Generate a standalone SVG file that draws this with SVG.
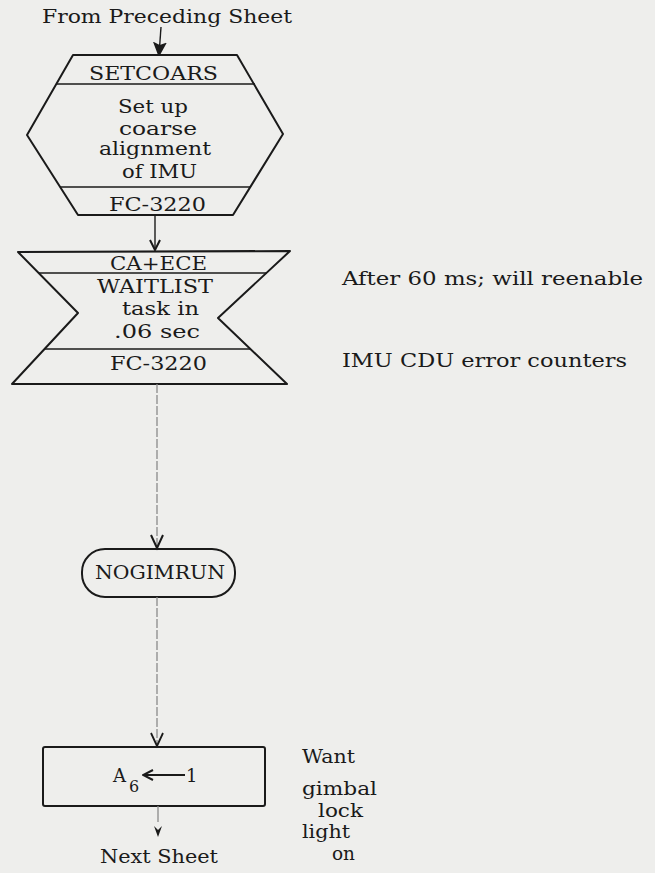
<svg xmlns="http://www.w3.org/2000/svg" width="655" height="873" viewBox="0 0 655 873">
  <defs>
    <style>
      .bg { fill: #eeeeec; }
      .shape { fill: none; stroke: #1a1a1a; stroke-width: 2; stroke-linejoin: round; }
      .div { stroke: #1a1a1a; stroke-width: 1.6; }
      .txt { font-family: "DejaVu Serif", "Liberation Serif", serif; font-size: 18px; fill: #1a1a1a; }
      .sub { font-family: "DejaVu Serif", "Liberation Serif", serif; font-size: 16px; fill: #1a1a1a; }
      .flow { stroke: #1a1a1a; stroke-width: 1.4; fill: none; }
      .faint { stroke: #8a8a8a; stroke-width: 1.3; stroke-dasharray: 9 2; fill: none; }
    </style>
    <marker id="vhead" viewBox="0 0 12 12" refX="11" refY="6" markerWidth="12" markerHeight="12" markerUnits="userSpaceOnUse" orient="auto">
      <path d="M1,1 L11,6 L1,11" fill="none" stroke="#1a1a1a" stroke-width="2"/>
    </marker>
    <marker id="solidhead" viewBox="0 0 14 14" refX="13" refY="7" markerWidth="14" markerHeight="14" markerUnits="userSpaceOnUse" orient="auto">
      <path d="M0,0 L13,6 L13,8 L0,14 L3,7 Z" fill="#1a1a1a"/>
    </marker>
  </defs>

  <rect class="bg" x="0" y="0" width="655" height="873"/>

  <!-- off-page entry label -->
  <g id="entry">
    <text class="txt" x="42" y="23" textLength="250" lengthAdjust="spacingAndGlyphs">From Preceding Sheet</text>
  </g>

  <!-- SETCOARS hexagon -->
  <g id="setcoars">
    <polygon class="shape" points="73,55 237,55 283,134 233,215 78,215 27,135"/>
    <line class="div" x1="57" y1="84" x2="255" y2="84"/>
    <line class="div" x1="60" y1="187" x2="251" y2="187"/>
    <text class="txt" x="89" y="80" textLength="129" lengthAdjust="spacingAndGlyphs">SETCOARS</text>
    <text class="txt" x="118" y="113" textLength="70" lengthAdjust="spacingAndGlyphs">Set up</text>
    <text class="txt" x="119" y="135" textLength="78" lengthAdjust="spacingAndGlyphs">coarse</text>
    <text class="txt" x="99" y="155" textLength="112" lengthAdjust="spacingAndGlyphs">alignment</text>
    <text class="txt" x="122" y="178" textLength="75" lengthAdjust="spacingAndGlyphs">of IMU</text>
    <text class="txt" x="109" y="211" textLength="97" lengthAdjust="spacingAndGlyphs">FC-3220</text>
  </g>

  <!-- CA+ECE waitlist shape -->
  <g id="caece">
    <polygon class="shape" points="18,252 290,251 218,318 287,384 12,384 78,313"/>
    <line class="div" x1="39" y1="273" x2="267" y2="273"/>
    <line class="div" x1="44" y1="349" x2="250" y2="349"/>
    <text class="txt" x="110" y="270" textLength="97" lengthAdjust="spacingAndGlyphs">CA+ECE</text>
    <text class="txt" x="97" y="293" textLength="116" lengthAdjust="spacingAndGlyphs">WAITLIST</text>
    <text class="txt" x="122" y="315" textLength="77" lengthAdjust="spacingAndGlyphs">task in</text>
    <text class="txt" x="114" y="338" textLength="86" lengthAdjust="spacingAndGlyphs">.06 sec</text>
    <text class="txt" x="110" y="370" textLength="97" lengthAdjust="spacingAndGlyphs">FC-3220</text>
  </g>

  <!-- annotations beside CA+ECE -->
  <g id="note-caece">
    <text class="txt" x="342" y="285" textLength="301" lengthAdjust="spacingAndGlyphs">After 60 ms; will reenable</text>
    <text class="txt" x="342" y="367" textLength="285" lengthAdjust="spacingAndGlyphs">IMU CDU error counters</text>
  </g>

  <!-- NOGIMRUN terminal -->
  <g id="nogimrun">
    <rect class="shape" x="82" y="549" width="153" height="48" rx="23" ry="23"/>
    <text class="txt" x="95" y="579" textLength="130" lengthAdjust="spacingAndGlyphs">NOGIMRUN</text>
  </g>

  <!-- A6 assignment box -->
  <g id="set-a6">
    <rect class="shape" x="43" y="747" width="222" height="59" rx="2"/>
    <text class="txt" x="113" y="782">A</text>
    <text class="sub" x="129" y="792">6</text>
    <line x1="185" y1="775" x2="143" y2="775" stroke="#1a1a1a" stroke-width="1.8" marker-end="url(#vhead)"/>
    <text class="txt" x="186" y="782">1</text>
  </g>

  <!-- annotation beside A6 box -->
  <g id="note-a6">
    <text class="txt" x="302" y="763" textLength="53" lengthAdjust="spacingAndGlyphs">Want</text>
    <text class="txt" x="302" y="795" textLength="75" lengthAdjust="spacingAndGlyphs">gimbal</text>
    <text class="txt" x="318" y="817" textLength="45" lengthAdjust="spacingAndGlyphs">lock</text>
    <text class="txt" x="302" y="838" textLength="48" lengthAdjust="spacingAndGlyphs">light</text>
    <text class="txt" x="332" y="860" textLength="23" lengthAdjust="spacingAndGlyphs">on</text>
  </g>

  <!-- off-page exit label -->
  <g id="exit">
    <text class="txt" x="100" y="863" textLength="118" lengthAdjust="spacingAndGlyphs">Next Sheet</text>
  </g>

  <!-- connectors -->
  <g id="connectors">
    <path class="flow" d="M161,27 L159,55" stroke-width="2" marker-end="url(#solidhead)"/>
    <path class="flow" d="M155,215 L155,250" marker-end="url(#vhead)"/>
    <path class="faint" d="M157,384 L157,548"/>
    <path d="M151,535 L157,548 L163,535" fill="none" stroke="#1a1a1a" stroke-width="2"/>
    <path class="faint" d="M157,597 L157,746"/>
    <path d="M151,733 L157,746 L163,733" fill="none" stroke="#1a1a1a" stroke-width="1.8"/>
    <path d="M158,806 L158,822" stroke="#8a8a8a" stroke-width="1.3" fill="none"/>
    <path d="M154,826 L158,830 L162,826 L158,837 Z" fill="#1a1a1a"/>
  </g>
</svg>
